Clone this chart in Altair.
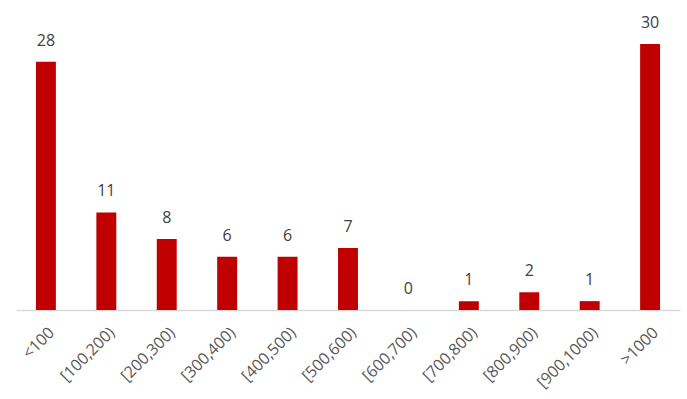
import altair as alt
import pandas as pd

categories = ["<100", "[100,200)", "[200,300)", "[300,400)", "[400,500)", "[500,600)",
              "[600,700)", "[700,800)", "[800,900)", "[900,1000)", ">1000"]
values = [28, 11, 8, 6, 6, 7, 0, 1, 2, 1, 30]

df = pd.DataFrame({"cat": categories, "val": values})

x = alt.X("cat:N", sort=categories, title=None,
          scale=alt.Scale(paddingInner=0.67, paddingOuter=0.33),
          axis=alt.Axis(labelAngle=-45, labelFont="Open Sans", labelFontSize=16,
                        labelColor="#595959", ticks=False, domainColor="#D9D9D9",
                        domainWidth=1.5, labelPadding=14))
y = alt.Y("val:Q", scale=alt.Scale(domain=[0, 33.83], nice=False), axis=None)

bars = alt.Chart(df).mark_bar(color="#C00000").encode(x=x, y=y)
labels = alt.Chart(df).mark_text(dy=-21, baseline="middle", font="Open Sans",
                                 fontSize=16, color="#404040").encode(
    x=x, y=y, text="val:Q")

chart = (bars + labels).properties(
    width=664, height=300,
    autosize=alt.AutoSizeParams(type="none"),
    padding={"left": 16, "top": 10, "right": 7, "bottom": 89},
).configure_view(stroke=None)

chart.save("out.html", embed_options={"renderer": "svg", "actions": False})
